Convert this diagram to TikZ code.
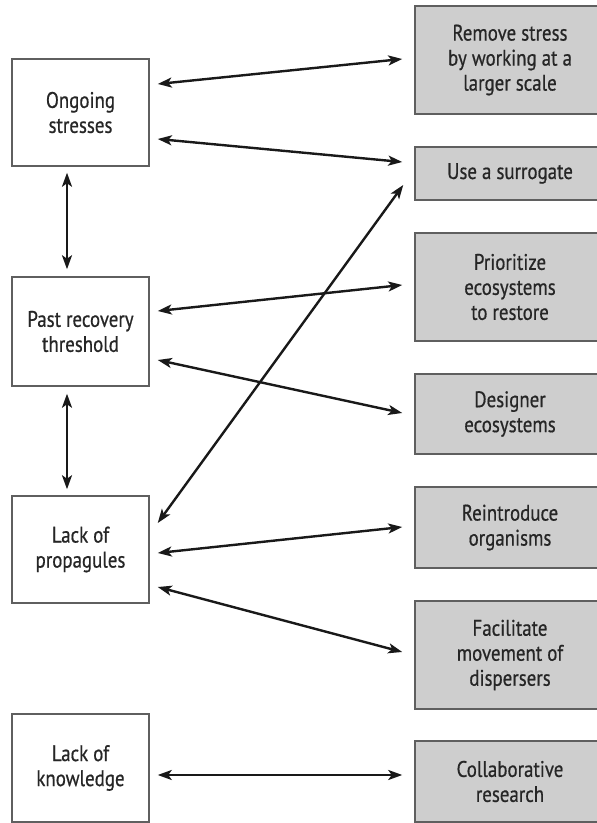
\documentclass[tikz,border=0pt]{standalone}
\usepackage{fontspec}
\setmainfont[FakeStretch=0.84,FakeBold=0.6]{PT Sans}
\usetikzlibrary{arrows.meta,calc}
\definecolor{boxgray}{RGB}{206,206,206}
\definecolor{edgegray}{RGB}{95,95,95}
\begin{document}
\begin{tikzpicture}[x=1pt,y=1pt,
  base/.style={draw=edgegray,line width=1.5pt,align=center,inner sep=0pt,
    font=\fontsize{22.5}{25}\selectfont,text=black!85},
  leftbox/.style={base,fill=white,minimum width=137pt},
  rightbox/.style={base,fill=boxgray,minimum width=190pt},
  arr/.style={line width=2.4pt,draw=black!90,
    {Stealth[length=14pt,width=10pt,inset=3.5pt]}-{Stealth[length=14pt,width=10pt,inset=3.5pt]}}]
\useasboundingbox (0,0) rectangle (597,823);
\clip (0,0) rectangle (597,823);
% left boxes
\node[leftbox,minimum height=107pt] (os) at (80.5,710.5) {Ongoing\\stresses};
\node[leftbox,minimum height=109pt] (pr) at (80.5,491.5) {Past recovery\\threshold};
\node[leftbox,minimum height=107pt] (lp) at (80.5,273.5) {Lack of\\propagules};
\node[leftbox,minimum height=108pt] (lk) at (80.5,55) {Lack of\\knowledge};
% right boxes
\node[rightbox,minimum height=108pt] (rs) at (510,763) {Remove stress\\by working at a\\larger scale};
\node[rightbox,minimum height=53pt] (us) at (510,649.5) {Use a surrogate};
\node[rightbox,minimum height=108pt] (pe) at (510,536) {Prioritize\\ecosystems\\to restore};
\node[rightbox,minimum height=80pt] (de) at (510,409) {Designer\\ecosystems};
\node[rightbox,minimum height=81pt] (ro) at (510,295.5) {Reintroduce\\organisms};
\node[rightbox,minimum height=108pt] (fm) at (510,168) {Facilitate\\movement of\\dispersers};
\node[rightbox,minimum height=81pt] (cr) at (510,41.5) {Collaborative\\research};
% connectors
\draw[arr] ($(os.east)+(8,28.5)$) -- ($(rs.west)+(-12,1)$);
\draw[arr] ($(os.east)+(8,-26.5)$) -- ($(us.west)+(-12,11.5)$);
\draw[arr] ($(lp.east)+(8,26.5)$) -- ($(us.west)+(-11,-11.5)$);
\draw[arr] ($(os.south)+(-13.5,-6)$) -- ($(pr.north)+(-13.5,7)$);
\draw[arr] ($(pr.south)+(-13.5,-7)$) -- ($(lp.north)+(-13.5,6)$);
\draw[arr] ($(pr.east)+(8,20.5)$) -- ($(pe.west)+(-12,2)$);
\draw[arr] ($(pr.east)+(8,-28.5)$) -- ($(de.west)+(-12,1)$);
\draw[arr] ($(lp.east)+(8,-3.5)$) -- ($(ro.west)+(-12,0.5)$);
\draw[arr] ($(lp.east)+(8,-37.5)$) -- ($(fm.west)+(-12,3)$);
\draw[arr] ($(lk.east)+(8,-7)$) -- ($(cr.west)+(-12,6.5)$);
\end{tikzpicture}
\end{document}
